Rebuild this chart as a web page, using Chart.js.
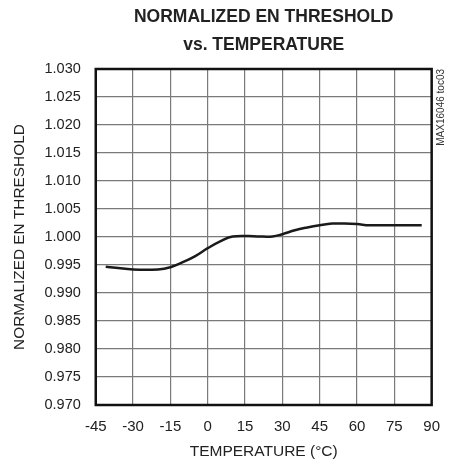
<!DOCTYPE html>
<html>
<head>
<meta charset="utf-8">
<script src="https://cdn.jsdelivr.net/npm/chart.js@4.4.1/dist/chart.umd.min.js"></script>
<style>
  html, body { margin: 0; padding: 0; background: #fff; }
  #wrap { width: 453px; height: 470px; }
</style>
</head>
<body>
<div id="wrap"><canvas id="thresholdChart"></canvas></div>
<script>
// temperature (°C) and normalized EN threshold
const temps = [-41, -30, -20, -15, -10, -5, 0, 5, 10, 20, 26, 30, 35, 40, 45, 50, 55, 60, 65, 75, 86];
const thresholds = [0.9947, 0.9942, 0.9942, 0.9946, 0.9955, 0.9966, 0.9980, 0.9992, 1.0001, 1.0001, 1.0001, 1.0005, 1.0012, 1.0017, 1.0021, 1.0024, 1.0024, 1.0023, 1.0021, 1.0021, 1.0021];

const xTicks = [-45, -30, -15, 0, 15, 30, 45, 60, 75, 90];
const yTicks = [0.970, 0.975, 0.980, 0.985, 0.990, 0.995, 1.000, 1.005, 1.010, 1.015, 1.020, 1.025, 1.030];

const FONT = "'Liberation Sans', Arial, sans-serif";

// black frame round the plot plus the little part number on the right
const framePlugin = {
    id: 'frame',
    afterDraw(chart) {
        const { ctx, chartArea } = chart;
        ctx.save();
        ctx.strokeStyle = '#111';
        ctx.lineWidth = 2.5;
        ctx.strokeRect(chartArea.left, chartArea.top, chartArea.right - chartArea.left, chartArea.bottom - chartArea.top);
        ctx.translate(chartArea.right + 10, chartArea.top);
        ctx.rotate(-Math.PI / 2);
        ctx.font = '10px ' + FONT;
        ctx.fillStyle = '#333';
        ctx.textAlign = 'right';
        ctx.textBaseline = 'middle';
        ctx.fillText('MAX16046 toc03', 0, 0);
        ctx.restore();
    }
};

const ctx = document.getElementById('thresholdChart').getContext('2d');
new Chart(ctx, {
    type: 'line',
    data: {
        datasets: [{
            data: temps.map((t, i) => ({ x: t, y: thresholds[i] })),
            borderColor: '#1a1a1a',
            borderWidth: 2.5,
            pointRadius: 0,
            tension: 0.4,
            fill: false
        }]
    },
    options: {
        responsive: true,
        maintainAspectRatio: false,
        animation: false,
        layout: { padding: { left: 11, right: 20, top: 3, bottom: 9 } },
        plugins: {
            legend: { display: false },
            tooltip: { enabled: false },
            title: {
                display: true,
                fullSize: false,
                text: ['NORMALIZED EN THRESHOLD', 'vs. TEMPERATURE'],
                color: '#222',
                font: { family: FONT, size: 17.5, weight: 'bold', lineHeight: 1.6 },
                padding: { top: 0, bottom: 10 }
            }
        },
        scales: {
            x: {
                type: 'linear',
                min: -45,
                max: 90,
                afterBuildTicks: axis => { axis.ticks = xTicks.map(v => ({ value: v })); },
                afterFit: axis => { axis.height = 56; },
                grid: { color: '#7a7a7a', lineWidth: 1.2, drawTicks: false },
                border: { display: false },
                ticks: { color: '#222', padding: 13, font: { family: FONT, size: 15 } },
                title: {
                    display: true,
                    text: 'TEMPERATURE (°C)',
                    color: '#222',
                    font: { family: FONT, size: 15.5 },
                    padding: { top: 6, bottom: 0 }
                }
            },
            y: {
                min: 0.970,
                max: 1.030,
                afterBuildTicks: axis => { axis.ticks = yTicks.map(v => ({ value: v })); },
                grid: { color: '#7a7a7a', lineWidth: 1.2, drawTicks: false },
                border: { display: false },
                ticks: {
                    color: '#222',
                    padding: 15,
                    font: { family: FONT, size: 14.5 },
                    callback: v => v.toFixed(3)
                },
                title: {
                    display: true,
                    text: 'NORMALIZED EN THRESHOLD',
                    color: '#222',
                    font: { family: FONT, size: 15.4 },
                    padding: { top: 0, bottom: 0 }
                }
            }
        }
    },
    plugins: [framePlugin]
});
</script>
</body>
</html>
